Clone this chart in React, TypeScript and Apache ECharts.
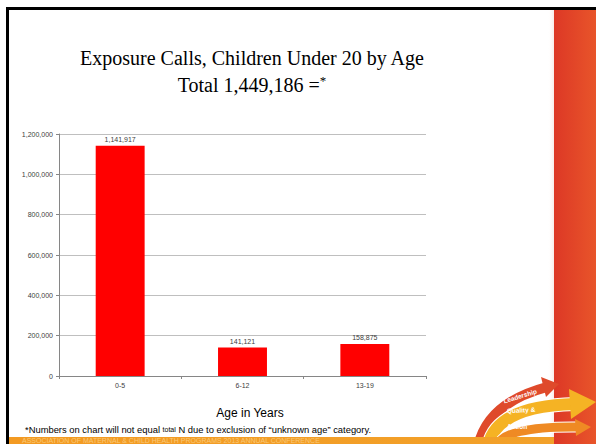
import React, { useEffect, useRef } from "react";
import * as echarts from "echarts";

const categories = ["0-5", "6-12", "13-19"];
const callCounts = [1141917, 141121, 158875];
const yTicks = { min: 0, max: 1200000, interval: 200000 };
const titleLines = ["Exposure Calls, Children Under 20 by Age", "Total 1,449,186 ="];
const xAxisTitle = "Age in Years";
const footerText = "ASSOCIATION OF MATERNAL & CHILD HEALTH PROGRAMS 2013 ANNUAL CONFERENCE";

const fmt = (v: number) => v.toLocaleString("en-US");

export default function App() {
  const ref = useRef<HTMLDivElement>(null);
  useEffect(() => {
    if (!ref.current) return;
    const chart = echarts.init(ref.current, undefined, { renderer: "svg" });
    const sans = "Liberation Sans";
    const band = (x1: number, y1: number, cx: number, cy: number, x2: number, y2: number, w: number, color: string) => [
      {
        type: "bezierCurve",
        silent: true,
        shape: { x1, y1, cpx1: cx, cpy1: cy, x2, y2 },
        style: { stroke: "#ffffff", lineWidth: w + 2, fill: null },
      },
      {
        type: "bezierCurve",
        silent: true,
        shape: { x1, y1, cpx1: cx, cpy1: cy, x2, y2 },
        style: { stroke: color, lineWidth: w, fill: null },
      },
    ];
    const option: any = {
      animation: false,
      backgroundColor: "#ffffff",
      grid: { left: 59, top: 134, width: 367, height: 242, containLabel: false },
      xAxis: {
        type: "category",
        data: categories,
        axisLine: { show: true, lineStyle: { color: "#868686", width: 1 } },
        axisTick: { show: true, length: 3, lineStyle: { color: "#868686" } },
        axisLabel: { fontSize: 7, color: "#404040", fontFamily: sans, margin: 6 },
        splitLine: { show: false },
      },
      yAxis: {
        type: "value",
        min: yTicks.min,
        max: yTicks.max,
        interval: yTicks.interval,
        axisLine: { show: true, lineStyle: { color: "#868686", width: 1 } },
        axisTick: { show: true, length: 3, lineStyle: { color: "#868686" } },
        axisLabel: {
          fontSize: 7,
          color: "#404040",
          fontFamily: sans,
          margin: 6,
          formatter: (v: number) => fmt(v),
        },
        splitLine: { show: true, lineStyle: { color: "#BFBFBF", width: 1 } },
      },
      series: [
        {
          type: "bar",
          data: callCounts,
          barWidth: "40%",
          itemStyle: { color: "#FF0000" },
          label: {
            show: true,
            position: "top",
            distance: 3,
            fontSize: 7,
            color: "#404040",
            fontFamily: sans,
            formatter: (p: any) => fmt(p.value),
          },
        },
      ],
      graphic: [
        // right decorative strip
        {
          type: "rect",
          silent: true,
          shape: { x: 548, y: 9, width: 6, height: 435 },
          style: {
            fill: new echarts.graphic.LinearGradient(0, 0, 1, 0, [
              { offset: 0, color: "rgba(255,255,255,0)" },
              { offset: 1, color: "rgba(240,200,190,0.35)" },
            ]),
          },
        },
        {
          type: "rect",
          silent: true,
          shape: { x: 554, y: 9, width: 42, height: 435 },
          style: {
            fill: new echarts.graphic.LinearGradient(0, 0, 1, 0, [
              { offset: 0, color: "#DD3826" },
              { offset: 1, color: "#E8552A" },
            ]),
          },
        },
        // black border
        { type: "rect", silent: true, shape: { x: 6, y: 7, width: 590, height: 3 }, style: { fill: "#000000" } },
        { type: "rect", silent: true, shape: { x: 6, y: 7, width: 3, height: 437 }, style: { fill: "#000000" } },
        // logo: curved arrows
        ...band(478, 447, 487, 403, 547, 387, 10, "#DF4A2B"),
        {
          type: "polygon",
          silent: true,
          shape: { points: [[541, 377], [559, 384], [546, 397]] },
          style: { fill: "#DF4A2B" },
        },
        ...band(488, 447, 495, 406, 575, 404, 12, "#F5B324"),
        {
          type: "polygon",
          silent: true,
          shape: { points: [[569, 389], [596, 402], [571, 419]] },
          style: { fill: "#F5B324" },
        },
        ...band(497, 447, 502, 426, 579, 427, 9, "#EF8A24"),
        {
          type: "polygon",
          silent: true,
          shape: { points: [[575, 419], [591, 427], [576, 436]] },
          style: { fill: "#EF8A24" },
        },
        {
          type: "text",
          silent: true,
          x: 520,
          y: 396,
          rotation: 0.3,
          style: { text: "Leadership", fontSize: 6.5, fontWeight: "bold", fontFamily: sans, fill: "#ffffff", textAlign: "center", textVerticalAlign: "middle" },
        },
        {
          type: "text",
          silent: true,
          x: 521,
          y: 410,
          rotation: 0.05,
          style: { text: "Quality &", fontSize: 6.5, fontWeight: "bold", fontFamily: sans, fill: "#ffffff", textAlign: "center", textVerticalAlign: "middle" },
        },
        {
          type: "text",
          silent: true,
          x: 517,
          y: 426,
          style: { text: "Action", fontSize: 6.5, fontWeight: "bold", fontFamily: sans, fill: "#ffffff", textAlign: "center", textVerticalAlign: "middle" },
        },
        // footer bar
        {
          type: "rect",
          silent: true,
          shape: { x: 9, y: 437, width: 545, height: 7 },
          style: {
            fill: new echarts.graphic.LinearGradient(0, 0, 1, 0, [
              { offset: 0, color: "#F39A22" },
              { offset: 1, color: "#F2A12A" },
            ]),
          },
        },
        {
          type: "text",
          silent: true,
          x: 22,
          y: 437,
          style: {
            text: footerText,
            fontSize: 7,
            fontFamily: sans,
            fill: "#F9C878",
            textAlign: "left",
            textVerticalAlign: "top",
          },
        },
        // title
        {
          type: "text",
          x: 252,
          y: 68,
          style: {
            text: titleLines[0],
            fontSize: 20,
            fontFamily: "Liberation Serif",
            fill: "#000000",
            textAlign: "center",
            textVerticalAlign: "bottom",
          },
        },
        {
          type: "text",
          x: 252,
          y: 95,
          style: {
            text: "{a|" + titleLines[1] + "}{s|*}",
            textAlign: "center",
            textVerticalAlign: "bottom",
            rich: {
              a: { fontSize: 20, fontFamily: "Liberation Serif", color: "#000000" },
              s: { fontSize: 13, fontFamily: "Liberation Serif", color: "#000000", verticalAlign: "top", padding: [0, 0, 8, 0] },
            },
          },
        },
        // axis title
        {
          type: "text",
          x: 250,
          y: 413,
          style: {
            text: xAxisTitle,
            fontSize: 12,
            fontFamily: sans,
            fill: "#000000",
            textAlign: "center",
            textVerticalAlign: "middle",
          },
        },
        // footnote
        {
          type: "text",
          x: 25,
          y: 429,
          style: {
            text: "{n|*Numbers on chart will not equal }{t|total}{n| N due to exclusion of \u201Cunknown age\u201D category.}",
            textAlign: "left",
            textVerticalAlign: "middle",
            rich: {
              n: { fontSize: 9.4, fontFamily: sans, color: "#000000" },
              t: { fontSize: 7, fontFamily: sans, color: "#000000" },
            },
          },
        },
      ],
    };
    chart.setOption(option);
    return () => chart.dispose();
  }, []);
  return (
    <div
      ref={ref}
      style={{ position: "fixed", left: 0, top: 0, width: 596, height: 444 }}
    />
  );
}
